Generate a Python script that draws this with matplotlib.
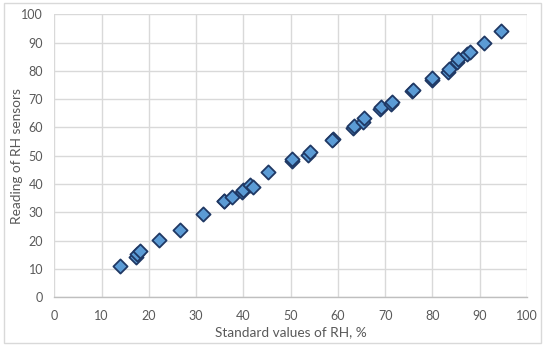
import matplotlib

matplotlib.use("Agg")
import matplotlib.pyplot as plt
from matplotlib.patches import Rectangle

# standard RH values (x) and sensor readings (y)
STANDARD_RH = [
    14.0, 17.2, 17.5, 18.2, 22.2, 26.6, 31.4, 35.8, 36.0, 37.6,
    39.7, 40.0, 41.5, 42.1, 45.2, 50.3, 50.2, 53.7, 54.1, 59.0,
    58.8, 63.1, 63.4, 65.3, 65.5, 69.0, 69.2, 71.3, 71.5, 75.7,
    75.8, 79.8, 80.0, 83.2, 83.6, 85.1, 85.4, 87.3, 87.9, 90.9,
    94.6,
]
SENSOR_RH = [
    11.2, 14.1, 15.2, 16.5, 20.2, 23.8, 29.4, 33.9, 34.1, 35.5,
    37.3, 37.9, 39.7, 38.9, 44.2, 48.2, 48.8, 50.4, 51.3, 56.0,
    55.6, 59.9, 60.6, 62.0, 63.3, 66.4, 67.3, 68.4, 69.1, 73.0,
    73.3, 76.8, 77.5, 79.7, 80.6, 83.3, 84.1, 85.9, 86.6, 89.7,
    94.1,
]
X_TICKS = [0, 10, 20, 30, 40, 50, 60, 70, 80, 90, 100]
Y_TICKS = [0, 10, 20, 30, 40, 50, 60, 70, 80, 90, 100]

TEXT_COLOR = "#595959"
GRID_COLOR = "#D9D9D9"
FILL_COLOR = "#5B9BD5"
EDGE_COLOR = "#1F3864"

plt.rcParams["font.family"] = ["Lato", "DejaVu Sans"]

fig = plt.figure(figsize=(5.5, 3.49), dpi=100)
fig.patches.append(Rectangle((4 / 550, 6 / 349), 537 / 550, 340 / 349,
                             transform=fig.transFigure, fill=False,
                             edgecolor=GRID_COLOR, linewidth=1.0))

ax = fig.add_axes([54.3 / 550, 51.7 / 349, 472.7 / 550, 283 / 349])
ax.scatter(STANDARD_RH, SENSOR_RH, marker="D", s=52, facecolor=FILL_COLOR,
           edgecolor=EDGE_COLOR, linewidth=1.3, zorder=3, clip_on=False)

ax.set_xlim(0, 100)
ax.set_ylim(0, 100)
ax.set_xticks(X_TICKS)
ax.set_yticks(Y_TICKS)
ax.grid(True, color=GRID_COLOR, linewidth=1.0)
ax.set_axisbelow(True)
for side in ["top", "right", "left"]:
    ax.spines[side].set_visible(False)
ax.spines["bottom"].set_color("#BFBFBF")
ax.spines["bottom"].set_linewidth(1.0)
ax.tick_params(length=0, labelsize=9, labelcolor=TEXT_COLOR)
ax.tick_params(axis="x", pad=9)
ax.tick_params(axis="y", pad=8)

ax.set_xlabel("Standard values of RH, %", fontsize=9.8, color=TEXT_COLOR, labelpad=3)
ax.set_ylabel("Reading of RH sensors", fontsize=9.8, color=TEXT_COLOR)
ax.yaxis.set_label_coords(-0.066, 0.5)

fig.savefig("out.png", dpi=100)
